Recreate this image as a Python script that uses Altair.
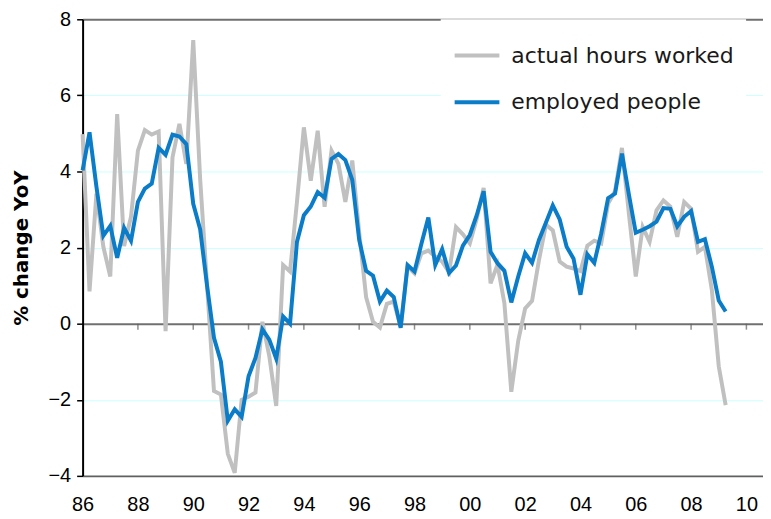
import altair as alt
import pandas as pd

# ---- data (quarterly, YoY % change) ----
start_year = 1986
series_names = ["actual hours worked", "employed people"]

hours = [4.98, 0.85, 3.42, 2.02, 1.24, 5.51, 2.04, 2.81, 4.55, 5.09,
         4.97, 5.05, -0.2, 4.37, 5.25, 4.2, 7.45, 3.8, 1.0, -1.77,
         -1.86, -3.42, -3.92, -2.0, -1.92, -1.81, 0.05, -0.85, -2.16, 1.54,
         1.37, 3.2, 5.16, 3.76, 5.07, 3.07, 4.55, 4.2, 3.2, 4.29,
         2.4, 0.7, 0.05, -0.1, 0.52, 0.58, -0.08, 1.5, 1.32, 1.85,
         1.92, 1.76, 1.63, 1.35, 2.54, 2.35, 2.11, 2.76, 3.57, 1.06,
         1.55, 0.54, -1.79, -0.45, 0.4, 0.6, 1.67, 2.6, 2.45, 1.63,
         1.5, 1.45, 1.38, 2.05, 2.18, 2.11, 3.16, 3.48, 4.62, 2.9,
         1.24, 2.54, 2.15, 2.98, 3.24, 3.08, 2.28, 3.2, 3.02, 1.89,
         2.02, 0.89, -1.12, -2.14]

employed = [4.03, 5.03, 3.6, 2.31, 2.57, 1.73, 2.52, 2.18, 3.2, 3.55,
            3.68, 4.62, 4.44, 4.97, 4.92, 4.72, 3.15, 2.48, 1.0, -0.37,
            -1.0, -2.55, -2.25, -2.45, -1.38, -0.9, -0.15, -0.42, -0.92, 0.19,
            0.0, 2.15, 2.85, 3.08, 3.46, 3.31, 4.33, 4.46, 4.3, 3.78,
            2.2, 1.39, 1.26, 0.58, 0.87, 0.7, -0.11, 1.54, 1.37, 2.1,
            2.79, 1.54, 1.96, 1.33, 1.53, 2.05, 2.33, 2.85, 3.48, 1.89,
            1.59, 1.39, 0.56, 1.24, 1.85, 1.6, 2.2, 2.65, 3.11, 2.74,
            2.02, 1.71, 0.76, 1.82, 1.6, 2.37, 3.3, 3.42, 4.47, 3.4,
            2.39, 2.47, 2.56, 2.68, 3.04, 3.02, 2.56, 2.81, 2.96, 2.15,
            2.22, 1.5, 0.61, 0.32]

tick_years = list(range(1986, 2011, 2))
y_ticks = [-4, -2, 0, 2, 4, 6, 8]
colors = ["#c0c0c0", "#0a7cc8"]

n = len(hours)
t = [start_year + i / 4 for i in range(n)]
df = pd.DataFrame({
    "t": t + t,
    "v": hours + employed,
    "s": [series_names[0]] * n + [series_names[1]] * n,
})
ticks_df = pd.DataFrame({"t": tick_years[1:]})

x_scale = alt.Scale(domain=[1986, 2010.6], nice=False, zero=False)
y_scale = alt.Scale(domain=[-4, 8], nice=False, zero=False)

dark_test = "datum.value == 0 || datum.value == 8"

x_axis = alt.Axis(values=tick_years,
                  labelExpr="substring(toString(datum.value), 2)",
                  ticks=False, grid=False, domainColor="#606060",
                  domainWidth=2, labelFontSize=20,
                  labelFont="Liberation Sans", labelColor="#000000",
                  labelPadding=19, labelFlush=False, title=None)

y_axis = alt.Axis(values=y_ticks, grid=True,
                  gridColor=alt.condition(dark_test, alt.value("#707070"), alt.value("#ccffff")),
                  gridWidth=alt.condition(dark_test, alt.value(2), alt.value(1)),
                  domainColor="#000000", domainWidth=2,
                  tickColor="#000000", tickSize=6, tickWidth=1.5,
                  labelFontSize=20, labelFont="Liberation Sans",
                  labelColor="#000000", labelPadding=6,
                  title="% change YoY", titleFontSize=20,
                  titleFont="DejaVu Sans", titleFontWeight="bold",
                  titleColor="#000000", titleX=-61,
                  titleBaseline="middle")

lines = alt.Chart(df).mark_line(strokeWidth=4).encode(
    x=alt.X("t:Q", scale=x_scale, axis=x_axis),
    y=alt.Y("v:Q", scale=y_scale, axis=y_axis),
    color=alt.Color("s:N",
                    scale=alt.Scale(domain=series_names, range=colors),
                    legend=alt.Legend(title=None, orient="none", legendX=360,
                                      legendY=0, fillColor="white", padding=12,
                                      symbolType="stroke", symbolStrokeWidth=4,
                                      symbolSize=2025, labelFontSize=22,
                                      labelFont="DejaVu Sans",
                                      labelColor="#1a1a1a", labelOffset=10,
                                      rowPadding=11, labelLimit=400)),
)

zero_ticks = alt.Chart(ticks_df).mark_tick(
    orient="vertical", size=6, thickness=1.5, color="#606060", yOffset=3
).encode(
    x=alt.X("t:Q", scale=x_scale, axis=x_axis),
    y=alt.YDatum(0, type="quantitative", scale=y_scale, axis=y_axis),
)

chart = alt.layer(lines, zero_ticks).properties(
    width=684, height=459,
    padding={"left": 75, "top": 10, "right": 0, "bottom": 42},
    autosize=alt.AutoSizeParams(type="none"),
    background="white",
).configure_view(stroke=None)

chart.save("out.html", embed_options={"renderer": "svg", "actions": False})
